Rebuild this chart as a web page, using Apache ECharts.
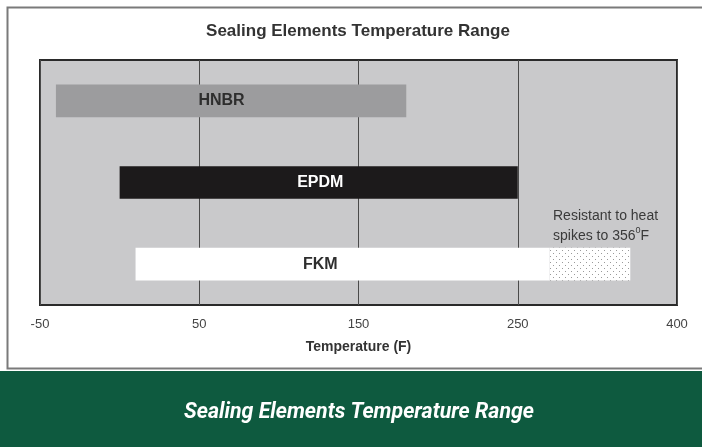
<!DOCTYPE html>
<html><head><meta charset="utf-8">
<script src="https://cdn.jsdelivr.net/npm/echarts@6/dist/echarts.min.js"></script>
<style>html,body{margin:0;padding:0;background:#fff}#c{width:702px;height:447px}</style>
</head><body><div id="c"></div>
<script>
// ---- data ----
const categories = ['HNBR', 'EPDM', 'FKM'];
const rangeStart = [-40, 0, 10];       // °F
const rangeEnd = [180, 250, 280];      // °F
const spikeEnd = [null, null, 356];    // °F (heat spike tolerance)
const labelAt = [64, 126, 126];        // °F where the name label sits
const tickValues = [-50, 50, 150, 250, 400];
const chartTitle = 'Sealing Elements Temperature Range';
const axisTitle = 'Temperature (F)';
const note = 'Resistant to heat\nspikes to 356{sup|0}F';

// piecewise mapping °F -> axis position (ticks are evenly spaced)
function toPos(f) {
  for (let i = 0; i < tickValues.length - 1; i++) {
    const a = tickValues[i], b = tickValues[i + 1];
    if (f <= b || i === tickValues.length - 2) return i + (f - a) / (b - a);
  }
}

// stipple pattern
const pat = document.createElement('canvas');
pat.width = 6; pat.height = 6;
const pc = pat.getContext('2d');
pc.fillStyle = '#fff'; pc.fillRect(0, 0, 6, 6);
pc.fillStyle = '#9a9a9a';
pc.fillRect(1, 1, 1, 1); pc.fillRect(4, 4, 1, 1);

const barColors = ['#9c9c9e', '#1c1a1b', '#ffffff'];
const textColors = ['#2e2e2e', '#ffffff', '#2e2e2e'];
const FONT = 'Liberation Sans, Arial, Helvetica';

const data = categories.map((c, i) => [toPos(rangeStart[i]), toPos(rangeEnd[i]), i,
  spikeEnd[i] == null ? -1 : toPos(spikeEnd[i]), toPos(labelAt[i])]);

const chart = echarts.init(document.getElementById('c'));
chart.setOption({
  animation: false,
  graphic: [
    { type: 'rect', shape: { x: 7.5, y: 7.5, width: 702, height: 361 }, style: { fill: 'none', stroke: '#7a7a7a', lineWidth: 2 }, z: 10 },
    { type: 'text', x: 358, y: 31, style: { text: chartTitle, fill: '#333', align: 'center', verticalAlign: 'middle',
      fontFamily: FONT, fontSize: 17, fontWeight: 'bold' }, z: 11 },
    { type: 'rect', shape: { x: 0, y: 371, width: 702, height: 76 }, style: { fill: '#0e5a3f' }, z: 10 },
    { type: 'text', x: 359, y: 412, scaleX: 0.97, originX: 0, originY: 0,
      style: { text: chartTitle, fill: '#fff', align: 'center', verticalAlign: 'middle',
      font: 'italic bold 22px Roboto' }, z: 11 },
    { type: 'text', x: 553, y: 206, style: { text: note, fill: '#3a3a3a', align: 'left', verticalAlign: 'top',
      fontFamily: FONT, fontSize: 14, lineHeight: 20,
      rich: { sup: { fontSize: 9, verticalAlign: 'top', padding: [0, 0, 8, 0], fill: '#3a3a3a', fontFamily: FONT } } }, z: 11 }
  ],
  grid: { left: 40, right: 25, top: 60, bottom: 142, show: true, backgroundColor: '#c9c9cb', borderColor: '#2a2a2a', borderWidth: 2 },
  xAxis: {
    type: 'value', min: 0, max: tickValues.length - 1, interval: 1,
    name: axisTitle, nameLocation: 'middle', nameGap: 35,
    nameTextStyle: { fontFamily: FONT, fontSize: 14, fontWeight: 'bold', color: '#333' },
    axisLine: { show: false }, axisTick: { show: false },
    axisLabel: { margin: 13, fontFamily: FONT, fontSize: 13, color: '#444',
      formatter: v => tickValues[Math.round(v)] },
    splitLine: { show: true, lineStyle: { color: '#4a4a4a', width: 1 } }
  },
  yAxis: { type: 'category', data: categories, inverse: true, show: false,
    splitLine: { show: false } },
  series: [{
    type: 'custom',
    data: data,
    renderItem: (params, api) => {
      const i = api.value(2);
      const p0 = api.coord([api.value(0), i]);
      const p1 = api.coord([api.value(1), i]);
      const h = api.size([0, 1])[1] * 0.4;
      const children = [{
        type: 'rect', shape: { x: p0[0], y: p0[1] - h / 2, width: p1[0] - p0[0], height: h },
        style: { fill: barColors[i] }
      }];
      if (api.value(3) >= 0) {
        const p2 = api.coord([api.value(3), i]);
        children.push({ type: 'rect', shape: { x: p1[0], y: p1[1] - h / 2, width: p2[0] - p1[0], height: h },
          style: { fill: { image: pat, repeat: 'repeat' } } });
      }
      const pl = api.coord([api.value(4), i]);
      children.push({ type: 'text', x: pl[0], y: pl[1], style: { text: categories[i], fill: textColors[i],
        align: 'center', verticalAlign: 'middle', fontFamily: FONT, fontSize: 16, fontWeight: 'bold' } });
      return { type: 'group', children };
    }
  }]
});
</script></body></html>
